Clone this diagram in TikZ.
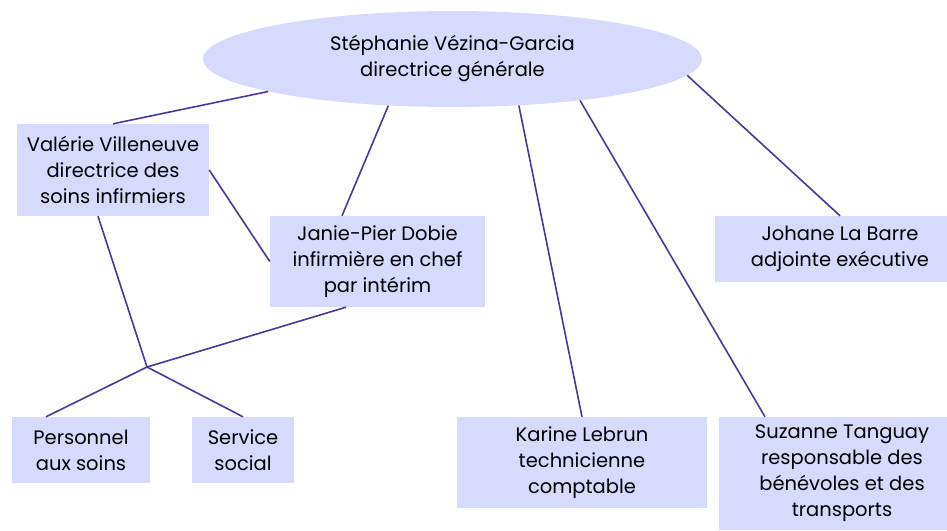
\documentclass[tikz,border=0pt]{standalone}
\usepackage{fontspec}
\setmainfont{Poppins}
\usetikzlibrary{shapes.geometric}
\definecolor{boxfill}{RGB}{214,218,252}
\definecolor{linkcol}{RGB}{78,52,158}
\begin{document}
\begin{tikzpicture}[x=1pt, y=-1pt,
    every node/.style={fill=boxfill, align=center, inner sep=0pt, font=\fontsize{19.5}{26}\selectfont},
    box/.style={rectangle},
    link/.style={draw=linkcol, line width=1.6pt}]
            \useasboundingbox (0,0) rectangle (947,530);
            \node[ellipse, minimum width=499pt, minimum height=96pt] (chief) at (452.5,59) {Stéphanie Vézina-Garcia\\directrice générale};
            \node[box, minimum width=192pt, minimum height=92pt] (valerie) at (113,170) {Valérie Villeneuve\\directrice des\\soins infirmiers};
            \node[box, minimum width=215pt, minimum height=91pt] (janie) at (377.5,261.5) {Janie-Pier Dobie\\infirmière en chef\\par intérim};
            \node[box, minimum width=250pt, minimum height=66pt] (johane) at (840,249) {Johane La Barre\\adjointe exécutive};
            \node[box, minimum width=138pt, minimum height=66pt] (personnel) at (81,450) {Personnel\\aux soins};
            \node[box, minimum width=102pt, minimum height=66pt] (service) at (243,450) {Service\\social};
            \node[box, minimum width=250pt, minimum height=91pt] (karine) at (582,462.5) {Karine Lebrun\\technicienne\\comptable};
            \node[box, minimum width=246pt, minimum height=113pt] (suzanne) at (842,473.5) {Suzanne Tanguay\\responsable des\\bénévoles et des\\transports};
            \coordinate (junction) at (147,367);
            \draw[link] (chief.190.7) -- (valerie.north);
            \draw[link] (chief.216) -- ([xshift=-35.5pt]janie.north);
            \draw[link] (chief.-35.8) -- (karine.north);
            \draw[link] (chief.-18.4) -- ([xshift=-77pt]suzanne.north);
            \draw[link] (chief.-4.4) -- (johane.north);
            \draw[link] (valerie.east) -- (janie.west);
            \draw[link] ([xshift=-15pt]valerie.south) -- (junction);
            \draw[link] ([xshift=-31.5pt]janie.south) -- (junction);
            \draw[link] (junction) -- ([xshift=-35pt]personnel.north);
            \draw[link] (junction) -- (service.north);
\end{tikzpicture}
\end{document}
